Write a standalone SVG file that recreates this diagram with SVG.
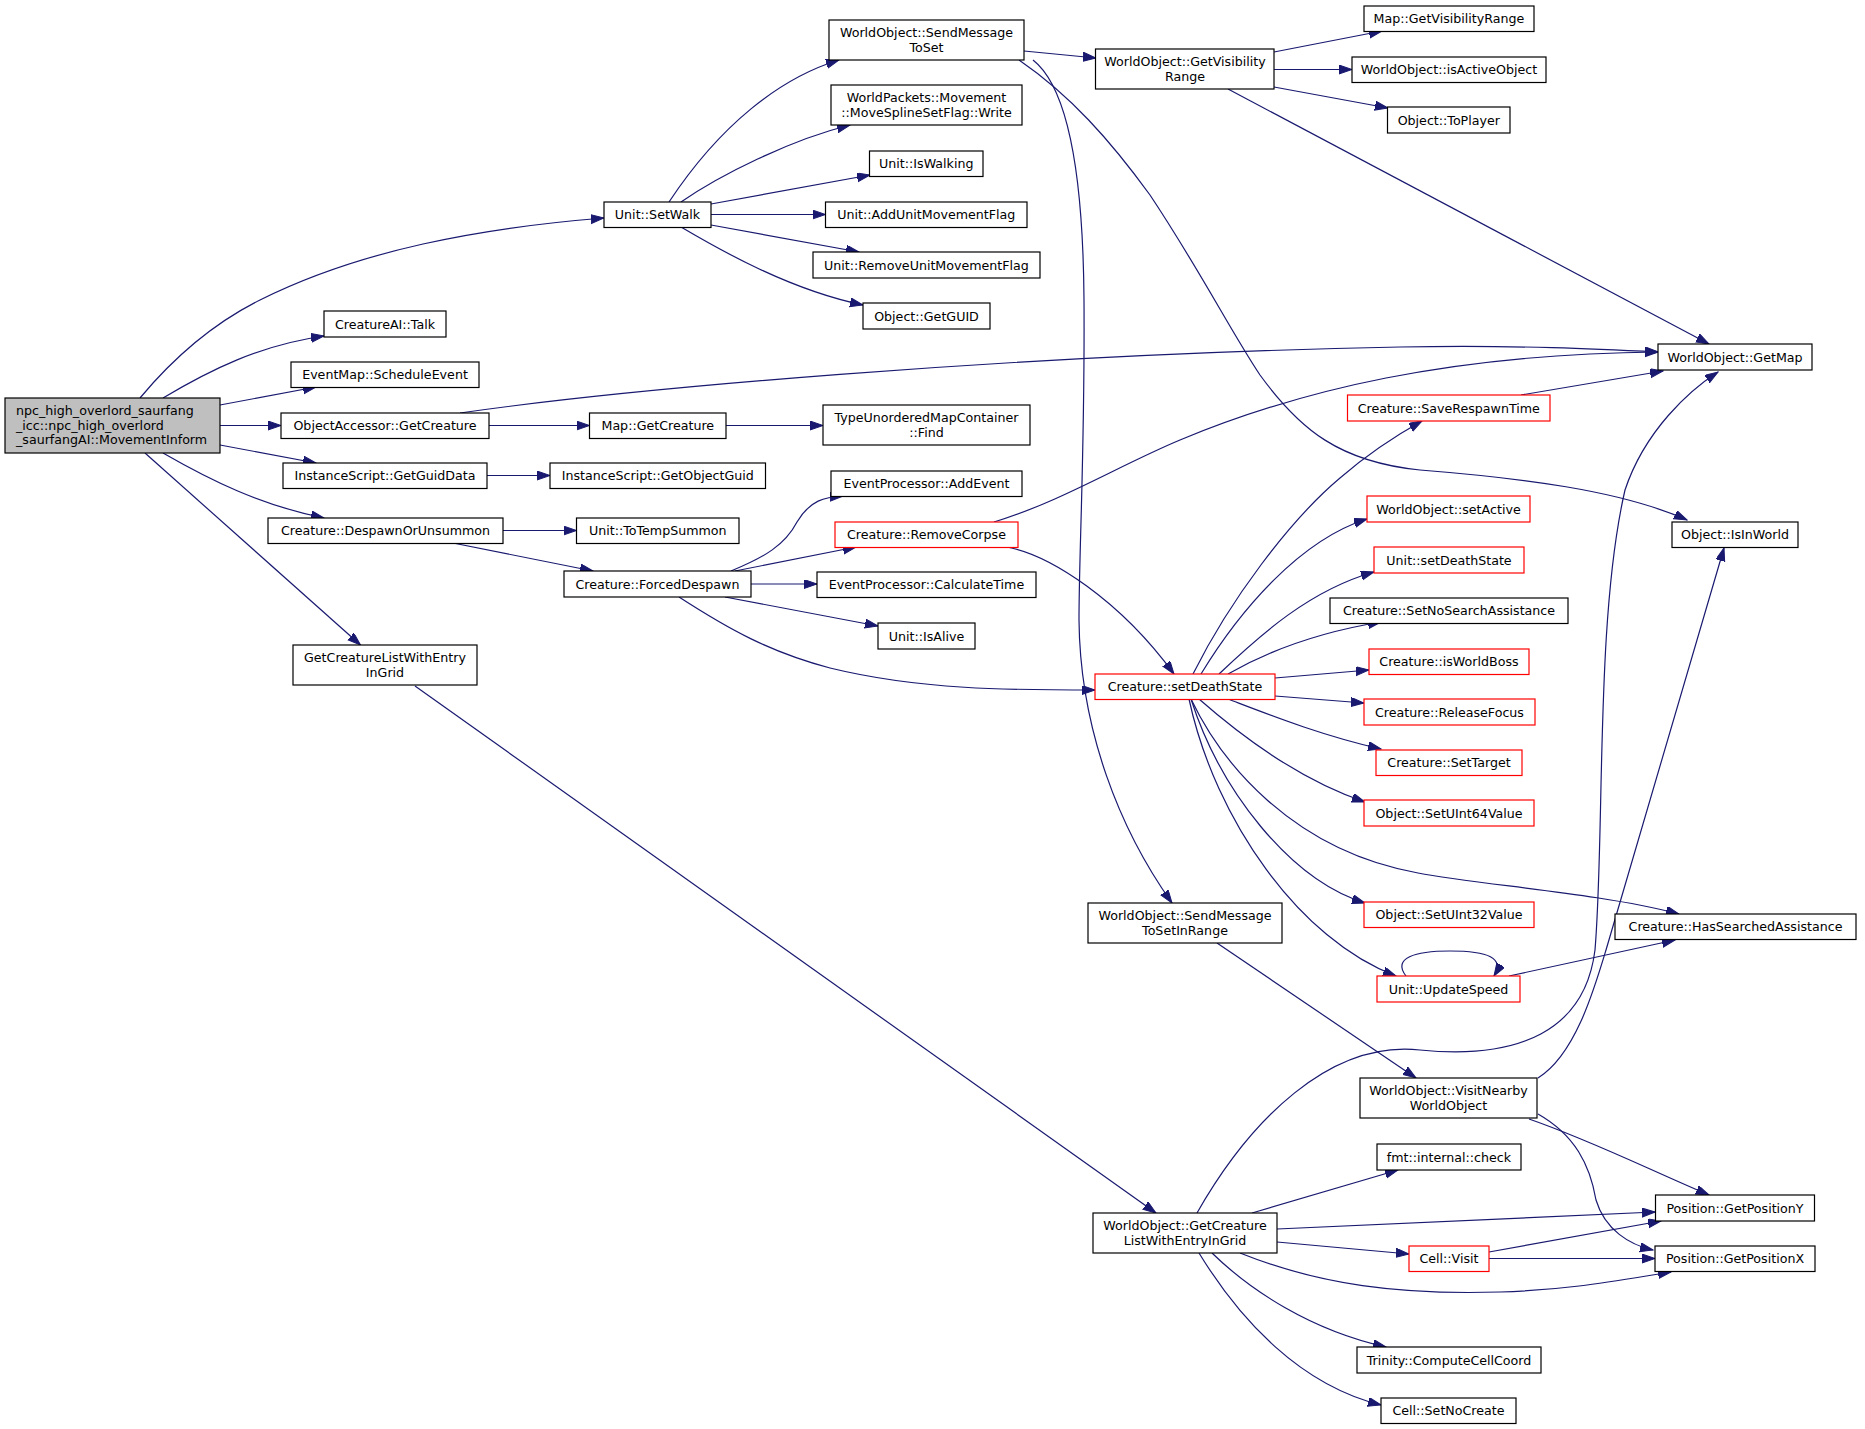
<svg xmlns="http://www.w3.org/2000/svg" width="1865" height="1429" viewBox="0 0 1865 1429">
<style>
.n rect{fill:#fff;stroke:#000;stroke-width:1.2}
.r rect{fill:#fff;stroke:#f00;stroke-width:1.2}
.m rect{fill:#bfbfbf;stroke:#000;stroke-width:1.2}
text{font-family:"DejaVu Sans","Liberation Sans",sans-serif;font-size:12.65px;fill:#000;text-anchor:middle}
.m text{text-anchor:start}
#edges path{fill:none;stroke:#191970;stroke-width:1.2;marker-end:url(#a)}
</style>
<defs>
<marker id="a" markerUnits="userSpaceOnUse" markerWidth="14" markerHeight="10" refX="13" refY="4.5" orient="auto">
<path d="M0,0 L13,4.5 L0,9 z" fill="#191970" stroke="#191970" stroke-width="1"/>
</marker>
</defs>
<rect width="1865" height="1429" fill="#fff"/>
<g id="edges">
<path d="M140,398 C180,350 220,320 260,300 C360,250 480,228 604,218"/>
<path d="M163,398 C210,370 260,345 324,336"/>
<path d="M220,405 L316,387"/>
<path d="M220,425.5 L281,425.5"/>
<path d="M220,445 L316,463"/>
<path d="M163,453 C210,480 260,505 324,518"/>
<path d="M145,453 L360.5,645"/>
<path d="M489,425.5 L589.5,425.5"/>
<path d="M460,413 C620,390 1000,355 1400,347 C1520,345 1600,349 1658,352"/>
<path d="M726,425.5 L823,425.5"/>
<path d="M487,475.5 L550,475.5"/>
<path d="M503,530.5 L576.5,530.5"/>
<path d="M453,543 L593,571"/>
<path d="M731,571 C765,557 785,545 797,522 C810,500 825,497 843,496"/>
<path d="M735,571 L856,547"/>
<path d="M751,584 L817,584"/>
<path d="M725,597 L878,626"/>
<path d="M679,597 C730,630 770,652 830,668 C920,690 1010,690 1095,690"/>
<path d="M1007,547 C1050,555 1120,600 1174,674"/>
<path d="M994,522 C1060,502 1120,465 1180,440 C1300,390 1450,354 1658,352"/>
<path d="M669,202 C720,125 780,78 839,60"/>
<path d="M681,202 C720,175 790,140 850,125"/>
<path d="M711,204 L870,175"/>
<path d="M711,214.5 L825.5,214.5"/>
<path d="M711,225 L859,252"/>
<path d="M681,227 C720,250 790,290 863,305"/>
<path d="M1024,51 L1096,58"/>
<path d="M1033,60 C1065,85 1083,160 1084,300 C1085,450 1079,550 1079,620 C1080,730 1120,830 1172,903"/>
<path d="M1019,60 C1070,95 1110,140 1150,195 C1200,270 1230,330 1260,375 C1300,430 1340,462 1420,470 C1520,478 1620,490 1687,520"/>
<path d="M1274,52 L1382,31"/>
<path d="M1274,69.5 L1352,69.5"/>
<path d="M1274,87 L1388,108"/>
<path d="M1228,89 L1709,344"/>
<path d="M1521,395 L1663,371"/>
<path d="M1193,674 C1230,600 1290,520 1340,478 C1370,452 1395,436 1422,421"/>
<path d="M1201,674 C1240,610 1300,540 1367,519"/>
<path d="M1219,674 C1260,635 1310,590 1374,572"/>
<path d="M1228,674 C1270,650 1320,632 1381,622"/>
<path d="M1275,678 L1369,670"/>
<path d="M1275,696 L1364,703"/>
<path d="M1228,699 C1270,715 1320,735 1381,749"/>
<path d="M1199,699 C1240,735 1300,780 1365,802"/>
<path d="M1191,699 C1220,760 1290,850 1418,873 C1480,885 1600,893 1679,914"/>
<path d="M1191,699 C1220,790 1290,880 1365,903"/>
<path d="M1189,699 C1215,820 1300,940 1396,976"/>
<path d="M1406,976 C1392,958 1415,951 1450,951 C1488,951 1505,958 1494,976"/>
<path d="M1509,976 L1675,940"/>
<path d="M1217,943 L1416,1078"/>
<path d="M1538,1078 C1575,1055 1594,990 1606,950 L1724,548"/>
<path d="M1529,1119 C1590,1140 1650,1170 1709,1195"/>
<path d="M1538,1114 C1575,1135 1590,1165 1596,1200 C1605,1230 1630,1245 1653,1250"/>
<path d="M415,686 L1156,1213"/>
<path d="M1197,1213 C1250,1120 1330,1040 1420,1050 C1520,1060 1585,1030 1595,950 C1605,830 1595,620 1625,490 C1645,430 1690,390 1718,372"/>
<path d="M1252,1213 L1398,1170"/>
<path d="M1277,1229 L1655,1212"/>
<path d="M1277,1242 L1409,1254"/>
<path d="M1240,1253 C1320,1285 1400,1295 1500,1292 C1570,1290 1620,1280 1671,1272"/>
<path d="M1212,1253 C1250,1290 1310,1330 1386,1347"/>
<path d="M1199,1253 C1240,1320 1300,1385 1381,1405"/>
<path d="M1489,1252 L1661,1221"/>
<path d="M1489,1258.5 L1655,1258.5"/>
</g>
<g id="n_main" class="m"><rect x="5" y="398" width="215" height="55"/><text x="16" y="414.8">npc_high_overlord_saurfang</text><text x="16" y="429.5">_icc::npc_high_overlord</text><text x="16" y="444">_saurfangAI::MovementInform</text></g>
<g id="n_setwalk" class="n"><rect x="604" y="202" width="107" height="25.5"/><text x="657.5" y="219.3">Unit::SetWalk</text></g>
<g id="n_talk" class="n"><rect x="324" y="311" width="122" height="26"/><text x="385" y="328.6">CreatureAI::Talk</text></g>
<g id="n_sched" class="n"><rect x="291" y="362" width="188" height="25.5"/><text x="385" y="379.3">EventMap::ScheduleEvent</text></g>
<g id="n_oagc" class="n"><rect x="281" y="413" width="208" height="25.5"/><text x="385" y="430.3">ObjectAccessor::GetCreature</text></g>
<g id="n_ggd" class="n"><rect x="283" y="463" width="204" height="25.5"/><text x="385" y="480.3">InstanceScript::GetGuidData</text></g>
<g id="n_dou" class="n"><rect x="268" y="518" width="235" height="25.5"/><text x="385.5" y="535.3">Creature::DespawnOrUnsummon</text></g>
<g id="n_gclweig" class="n"><rect x="293" y="645" width="184" height="40"/><text x="385" y="662">GetCreatureListWithEntry</text><text x="385" y="676.8">InGrid</text></g>
<g id="n_mapgc" class="n"><rect x="589.5" y="413" width="136.5" height="25.5"/><text x="657.8" y="430.3">Map::GetCreature</text></g>
<g id="n_ggo" class="n"><rect x="550" y="463" width="215.5" height="25.5"/><text x="657.8" y="480.3">InstanceScript::GetObjectGuid</text></g>
<g id="n_tts" class="n"><rect x="576.5" y="518" width="162.5" height="25.5"/><text x="657.8" y="535.3">Unit::ToTempSummon</text></g>
<g id="n_fd" class="n"><rect x="564" y="571" width="187" height="26"/><text x="657.5" y="588.6">Creature::ForcedDespawn</text></g>
<g id="n_smts" class="n"><rect x="829" y="20" width="195" height="40"/><text x="926.5" y="37">WorldObject::SendMessage</text><text x="926.5" y="51.8">ToSet</text></g>
<g id="n_msw" class="n"><rect x="831" y="85" width="191" height="40"/><text x="926.5" y="102">WorldPackets::Movement</text><text x="926.5" y="116.8">::MoveSplineSetFlag::Write</text></g>
<g id="n_isw" class="n"><rect x="869.5" y="151" width="113.5" height="25.5"/><text x="926.3" y="168.3">Unit::IsWalking</text></g>
<g id="n_aumf" class="n"><rect x="825.5" y="202" width="201.5" height="25.5"/><text x="926.3" y="219.3">Unit::AddUnitMovementFlag</text></g>
<g id="n_rumf" class="n"><rect x="813" y="252" width="227" height="26"/><text x="926.5" y="269.6">Unit::RemoveUnitMovementFlag</text></g>
<g id="n_guid" class="n"><rect x="863" y="303" width="127" height="26"/><text x="926.5" y="320.6">Object::GetGUID</text></g>
<g id="n_find" class="n"><rect x="823" y="405" width="207" height="40"/><text x="926.5" y="422">TypeUnorderedMapContainer</text><text x="926.5" y="436.8">::Find</text></g>
<g id="n_addev" class="n"><rect x="831" y="471" width="191" height="25.5"/><text x="926.5" y="488.3">EventProcessor::AddEvent</text></g>
<g id="n_rc" class="r"><rect x="835" y="522" width="183" height="25.5"/><text x="926.5" y="539.3">Creature::RemoveCorpse</text></g>
<g id="n_calc" class="n"><rect x="817" y="572" width="219" height="25.5"/><text x="926.5" y="589.3">EventProcessor::CalculateTime</text></g>
<g id="n_alive" class="n"><rect x="878" y="623" width="97" height="26"/><text x="926.5" y="640.6">Unit::IsAlive</text></g>
<g id="n_sds" class="r"><rect x="1095" y="674" width="180" height="25.5"/><text x="1185" y="691.3">Creature::setDeathState</text></g>
<g id="n_smtsir" class="n"><rect x="1088" y="903" width="194" height="40"/><text x="1185" y="920">WorldObject::SendMessage</text><text x="1185" y="934.8">ToSetInRange</text></g>
<g id="n_gvr" class="n"><rect x="1095.5" y="49" width="178.5" height="40"/><text x="1185" y="66">WorldObject::GetVisibility</text><text x="1185" y="80.8">Range</text></g>
<g id="n_mgvr" class="n"><rect x="1364" y="6" width="170" height="25.5"/><text x="1449" y="23.3">Map::GetVisibilityRange</text></g>
<g id="n_iao" class="n"><rect x="1352" y="57" width="194" height="25.5"/><text x="1449" y="74.3">WorldObject::isActiveObject</text></g>
<g id="n_tp" class="n"><rect x="1387.5" y="107" width="122.5" height="26"/><text x="1448.8" y="124.6">Object::ToPlayer</text></g>
<g id="n_gm" class="n"><rect x="1658" y="344" width="154" height="26"/><text x="1735" y="361.6">WorldObject::GetMap</text></g>
<g id="n_srt" class="r"><rect x="1347.5" y="395" width="202.5" height="26"/><text x="1448.8" y="412.6">Creature::SaveRespawnTime</text></g>
<g id="n_sa" class="r"><rect x="1367" y="496" width="163" height="26"/><text x="1448.5" y="513.6">WorldObject::setActive</text></g>
<g id="n_iiw" class="n"><rect x="1672" y="522" width="126" height="25.5"/><text x="1735" y="539.3">Object::IsInWorld</text></g>
<g id="n_usds" class="r"><rect x="1374" y="547" width="150" height="26"/><text x="1449" y="564.6">Unit::setDeathState</text></g>
<g id="n_snsa" class="n"><rect x="1330" y="598" width="238" height="25.5"/><text x="1449" y="615.3">Creature::SetNoSearchAssistance</text></g>
<g id="n_iwb" class="r"><rect x="1369" y="649" width="160" height="25.5"/><text x="1449" y="666.3">Creature::isWorldBoss</text></g>
<g id="n_rf" class="r"><rect x="1364" y="699" width="171" height="26"/><text x="1449.5" y="716.6">Creature::ReleaseFocus</text></g>
<g id="n_st" class="r"><rect x="1376" y="750" width="146" height="25.5"/><text x="1449" y="767.3">Creature::SetTarget</text></g>
<g id="n_s64" class="r"><rect x="1364" y="800" width="170" height="26"/><text x="1449" y="817.6">Object::SetUInt64Value</text></g>
<g id="n_s32" class="r"><rect x="1364" y="902" width="170" height="25.5"/><text x="1449" y="919.3">Object::SetUInt32Value</text></g>
<g id="n_hsa" class="n"><rect x="1615" y="914" width="241" height="25.5"/><text x="1735.5" y="931.3">Creature::HasSearchedAssistance</text></g>
<g id="n_us" class="r"><rect x="1377" y="976" width="143" height="26"/><text x="1448.5" y="993.6">Unit::UpdateSpeed</text></g>
<g id="n_vnwo" class="n"><rect x="1360" y="1078" width="177" height="40"/><text x="1448.5" y="1095">WorldObject::VisitNearby</text><text x="1448.5" y="1109.8">WorldObject</text></g>
<g id="n_fmt" class="n"><rect x="1377" y="1144" width="144" height="26"/><text x="1449" y="1161.6">fmt::internal::check</text></g>
<g id="n_gpy" class="n"><rect x="1655.5" y="1195" width="159" height="26"/><text x="1735" y="1212.6">Position::GetPositionY</text></g>
<g id="n_gpx" class="n"><rect x="1655" y="1246" width="160" height="25.5"/><text x="1735" y="1263.3">Position::GetPositionX</text></g>
<g id="n_cv" class="r"><rect x="1409" y="1246" width="80" height="25.5"/><text x="1449" y="1263.3">Cell::Visit</text></g>
<g id="n_ccc" class="n"><rect x="1357" y="1347" width="184" height="26"/><text x="1449" y="1364.6">Trinity::ComputeCellCoord</text></g>
<g id="n_snc" class="n"><rect x="1381" y="1398" width="135" height="25.5"/><text x="1448.5" y="1415.3">Cell::SetNoCreate</text></g>
<g id="n_wogcl" class="n"><rect x="1093" y="1213" width="184" height="40"/><text x="1185" y="1230">WorldObject::GetCreature</text><text x="1185" y="1244.8">ListWithEntryInGrid</text></g>
</svg>
